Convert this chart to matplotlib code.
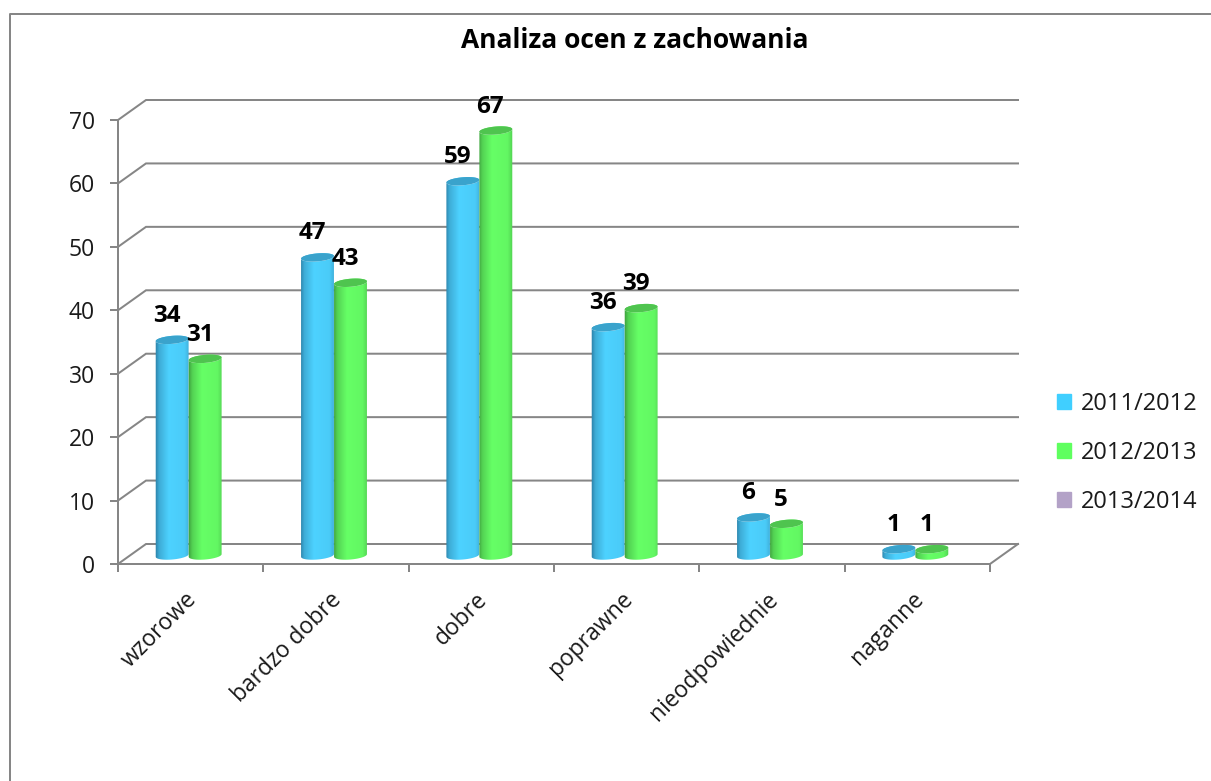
import numpy as np
import matplotlib
matplotlib.use("Agg")
import matplotlib.pyplot as plt
from matplotlib.lines import Line2D
from matplotlib.patches import Patch, PathPatch
from matplotlib.path import Path
from matplotlib.colors import to_rgb
from matplotlib.transforms import ScaledTranslation

categories = ["wzorowe", "bardzo dobre", "dobre", "poprawne", "nieodpowiednie", "naganne"]
s2011 = [34, 47, 59, 36, 6, 1]
s2012 = [31, 43, 67, 39, 5, 1]
series_names = ["2011/2012", "2012/2013", "2013/2014"]
y_ticks = [0, 10, 20, 30, 40, 50, 60, 70]

W, H = 1211, 781
GREY = "#868686"
FONT = "Open Sans"

plt.rcParams["font.family"] = [FONT, "DejaVu Sans"]
fig = plt.figure(figsize=(W / 100, H / 100), dpi=100)
# front plane of the fake 3d box
ax = fig.add_axes([118 / W, 1 - 564 / H, 872 / W, 444 / H])
ax.set_xlim(0, 6)
ax.set_ylim(0, 70)

# px -> data units
px_x = 6 / 872
px_y = 70 / 444
dx = 28 * px_x
dy = 20 * px_y


def lw(px):
    return px * 0.72


def cylinder(xc, val, c_main, c_dark, c_top):
    # body + top cap, everything worked out in pixels around the bar centre
    rx, ry = 16.5, 4.0
    tilt = np.radians(5)
    base = 8.5 * px_y
    top = base + val * 1.0

    def ell(t, yc):
        ex = rx * np.cos(t) * np.cos(tilt) - ry * np.sin(t) * np.sin(tilt)
        ey = rx * np.cos(t) * np.sin(tilt) + ry * np.sin(t) * np.cos(tilt)
        return xc + ex * px_x, yc + ey * px_y

    t_low = np.linspace(np.pi, 2 * np.pi, 40)
    t_up = np.linspace(0, np.pi, 40)
    bx, by = ell(t_low, base)
    tx, ty = ell(t_low[::-1], top)
    ux, uy = ell(t_up, top)
    # outline of the body, with the rounded front of the base
    verts = np.column_stack([np.r_[bx, tx, ux], np.r_[by, ty, uy]])
    verts = np.vstack([verts, verts[0]])
    body = PathPatch(Path(verts), fc="none", ec="none", zorder=3)
    ax.add_patch(body)

    # horizontal shading
    u = np.linspace(0, 1, 64)
    k = np.interp(u, [0, 0.12, 0.4, 0.85, 1], [0, 0.55, 1, 0.92, 0.55])
    dark, main = np.array(to_rgb(c_dark)), np.array(to_rgb(c_main))
    grad = (dark[None, :] + (main - dark)[None, :] * k[:, None])[None, :, :]
    x0, x1 = xc - (rx + 1) * px_x, xc + (rx + 1) * px_x
    im = ax.imshow(grad, extent=[x0, x1, base - 8 * px_y, top + 8 * px_y],
                   aspect="auto", zorder=3, interpolation="bilinear")
    im.set_clip_path(body)

    cx, cy = ell(np.linspace(0, 2 * np.pi, 80), top)
    ax.fill(cx, cy, color=c_top, lw=0, zorder=3)
    ax.annotate(str(val), (xc, top), xytext=(-5.5 * 0.72, 24 * 0.72), textcoords="offset points",
                ha="center", va="center", fontsize=17.5, fontweight="bold", color="black",
                zorder=5, annotation_clip=False)


# walls
for v in y_ticks:
    ax.plot([0, dx, 6 + dx], [v, v + dy, v + dy], color=GREY, lw=lw(2), clip_on=False,
            solid_joinstyle="miter", zorder=1)
ax.plot([6, 6 + dx], [0, dy], color=GREY, lw=lw(2), clip_on=False, zorder=1)

for i, (a, b) in enumerate(zip(s2011, s2012)):
    mid = i + 0.5 - 2 * px_x
    cylinder(mid - 16.5 * px_x, a, "#4DD2FF", "#2B7FA6", "#3AA3CC")
    cylinder(mid + 16.5 * px_x, b, "#66FF66", "#3C9C3C", "#4FC44F")

ax.set_xlim(0, 6)
ax.set_ylim(0, 70)

for s in ["top", "right"]:
    ax.spines[s].set_visible(False)
for s in ["left", "bottom"]:
    ax.spines[s].set_color(GREY)
    ax.spines[s].set_linewidth(lw(2))
ax.patch.set_alpha(0)

ax.set_yticks(y_ticks)
ax.set_xticks(range(7))
ax.set_xticklabels([])
ax.set_xticks(np.arange(6) + 0.5, categories, minor=True, rotation=45, ha="right",
              rotation_mode="anchor", fontsize=16.5, color="#1a1a1a")
ax.tick_params(axis="x", which="minor", length=0, pad=17)
ax.tick_params(axis="x", which="major", length=8 * 0.72, width=lw(2), color=GREY)
ax.tick_params(axis="y", length=8 * 0.72, width=lw(2), color=GREY, pad=11, labelsize=16.5, labelcolor="#1a1a1a")
# labels sit a bit left of the category middle
shift = ScaledTranslation(-6 / 100, 0, fig.dpi_scale_trans)
for lab in ax.get_xticklabels(minor=True):
    lab.set_transform(lab.get_transform() + shift)

# outer border of the chart area (only left and top are in the shot)
fig.add_artist(Line2D([10 / W, 10 / W, 1], [0, 1 - 14 / H, 1 - 14 / H], color=GREY, lw=lw(2)))

fig.text(635 / W, 1 - 40 / H, "Analiza ocen z zachowania", ha="center", va="center",
         fontsize=19, fontweight="bold", color="black")

handles = [Patch(color="#40CFFF"), Patch(color="#5FFF5F"), Patch(color="#B3A2C7")]
fig.legend(handles, series_names, loc="center left", bbox_to_anchor=(1045 / W, 1 - 453 / H),
           frameon=False, fontsize=17, handlelength=0.6, handleheight=0.6, handletextpad=0.4,
           labelspacing=1.05, labelcolor="#1a1a1a", borderpad=0)

fig.savefig("out.png", dpi=100, facecolor="white")
